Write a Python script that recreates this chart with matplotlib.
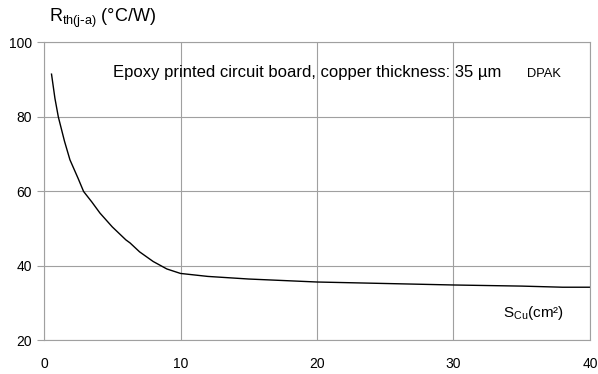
import matplotlib
matplotlib.use("Agg")
import matplotlib.pyplot as plt

plt.rcParams['font.family'] = ['Liberation Sans', 'DejaVu Sans']

# copper area (cm^2) vs. junction-to-ambient thermal resistance (degC/W)
s_cu = [0.55, 0.8, 1.05, 1.5, 1.9, 2.5, 2.9, 3.5, 4.1, 5, 6, 6.3, 7, 8, 9, 10,
        12, 15, 20, 25, 30, 35, 38, 40]
r_th = [91.5, 85, 80, 73.5, 68.5, 63.5, 60, 57.2, 54.2, 50.5, 47, 46.2, 43.8, 41.2,
        39.2, 38.0, 37.2, 36.5, 35.7, 35.3, 34.9, 34.6, 34.3, 34.3]
x_ticks = [0, 10, 20, 30, 40]
y_ticks = [20, 40, 60, 80, 100]

grid_col = '#a0a0a0'

fig = plt.figure(figsize=(5.98, 3.74), dpi=100)
ax = fig.add_axes([0.0736, 0.0896, 0.9130, 0.7968])

ax.plot(s_cu, r_th, color='black', lw=1.0)

ax.set_xlim(0, 40)
ax.set_ylim(20, 100)
ax.set_xticks(x_ticks)
ax.set_yticks(y_ticks)
ax.grid(True, color=grid_col, lw=0.8)
for sp in ax.spines.values():
    sp.set_color(grid_col)
    sp.set_linewidth(0.8)
ax.tick_params(axis='y', length=5, color=grid_col, labelsize=10, pad=3.5)
ax.tick_params(axis='x', length=0, labelsize=10, pad=12)

fig.text(0.082, 0.941, r'R$_{\mathregular{th(j\text{-}a)}}$ (°C/W)', fontsize=13,
         va='baseline', ha='left')
ax.text(5.05, 90.8, 'Epoxy printed circuit board, copper thickness: 35 µm',
        fontsize=12, va='baseline', ha='left')
ax.text(35.4, 90.8, 'DPAK', fontsize=9.3, va='baseline', ha='left')
ax.text(33.6, 26.3, r'S$_{\mathregular{Cu}}$(cm²)', fontsize=11, va='baseline', ha='left')

fig.savefig('out.png', dpi=100)
